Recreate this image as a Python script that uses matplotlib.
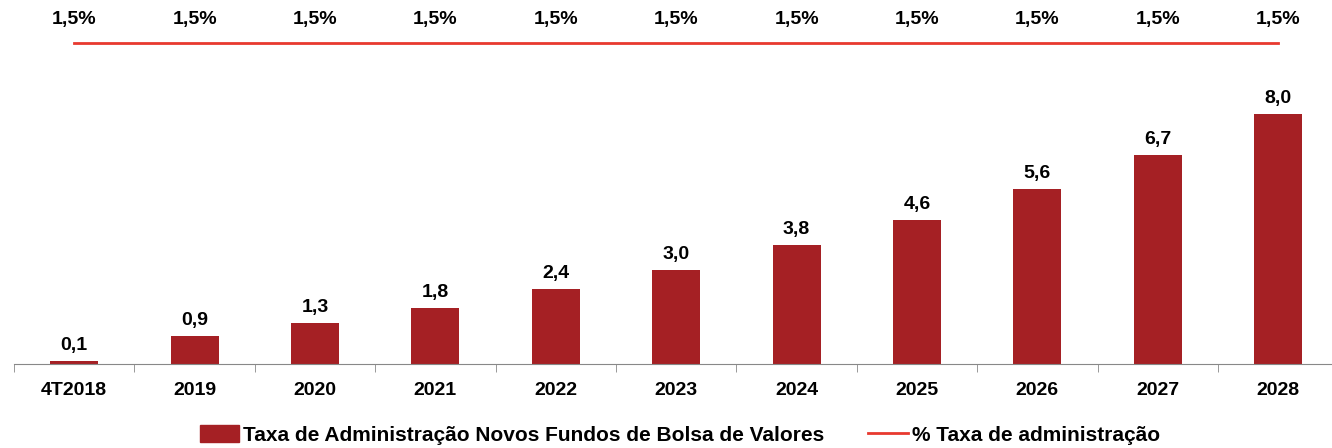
import matplotlib.pyplot as plt
import numpy as np
from matplotlib.lines import Line2D
from matplotlib.patches import Patch

categories = ['4T2018', '2019', '2020', '2021', '2022', '2023', '2024', '2025', '2026', '2027', '2028']
taxa_valores = [0.1, 0.9, 1.3, 1.8, 2.4, 3.0, 3.8, 4.6, 5.6, 6.7, 8.0]
taxa_pct = [1.5, 1.5, 1.5, 1.5, 1.5, 1.5, 1.5, 1.5, 1.5, 1.5, 1.5]

bar_color = '#A52024'
line_color = '#E8392F'

plt.rcParams['font.family'] = ['Liberation Sans', 'DejaVu Sans']
plt.rcParams['font.weight'] = 'bold'

W, H = 1332, 448
fig = plt.figure(figsize=(W / 100, H / 100), dpi=100)

left = 14 / W
width = (11 * 120.4) / W
bottom = (H - 364) / H
height = 364 / H
ax = fig.add_axes([left, bottom, width, height])

x = np.arange(len(categories))
ax.bar(x, taxa_valores, width=0.4, color=bar_color)
ax.set_xlim(-0.5, len(categories) - 0.5)
ax.set_ylim(0, 364 / 31.25)

for xi, v in zip(x, taxa_valores):
    ax.annotate(f'{v:.1f}'.replace('.', ','), (xi, v), xytext=(0, 5), textcoords='offset points',
                ha='center', va='bottom', fontsize=14, fontweight='bold')

for s in ['top', 'right', 'left']:
    ax.spines[s].set_visible(False)
ax.spines['bottom'].set_color('#888888')
ax.set_yticks([])
ax.set_xticks(np.arange(len(categories) + 1) - 0.5, minor=True)
ax.set_xticks(x)
ax.set_xticklabels(categories, fontsize=14, fontweight='bold')
ax.tick_params(axis='x', which='major', length=0, pad=13)
ax.tick_params(axis='x', which='minor', length=6, color='#888888')

ax2 = ax.twinx()
ax2.plot(x, taxa_pct, color=line_color, linewidth=2)
ax2.set_ylim(0, 1.5 * 364 / 321)
ax2.axis('off')
for xi, v in zip(x, taxa_pct):
    ax2.annotate(f'{v:.1f}%'.replace('.', ','), (xi, v), xytext=(0, 17), textcoords='offset points',
                 ha='center', va='center', fontsize=14, fontweight='bold')

handles = [Patch(color=bar_color), Line2D([0], [0], color=line_color, linewidth=2)]
labels = ['Taxa de Administração Novos Fundos de Bolsa de Valores', '% Taxa de administração']
fig.legend(handles, labels, loc='center', bbox_to_anchor=(0.5 + 14 / W, 1 - 435 / H), ncol=2,
           frameon=False, handlelength=1.9, handleheight=0.85, handletextpad=0.2, columnspacing=2.1,
           prop={'weight': 'bold', 'size': 15})

fig.savefig('out.png', dpi=100)
